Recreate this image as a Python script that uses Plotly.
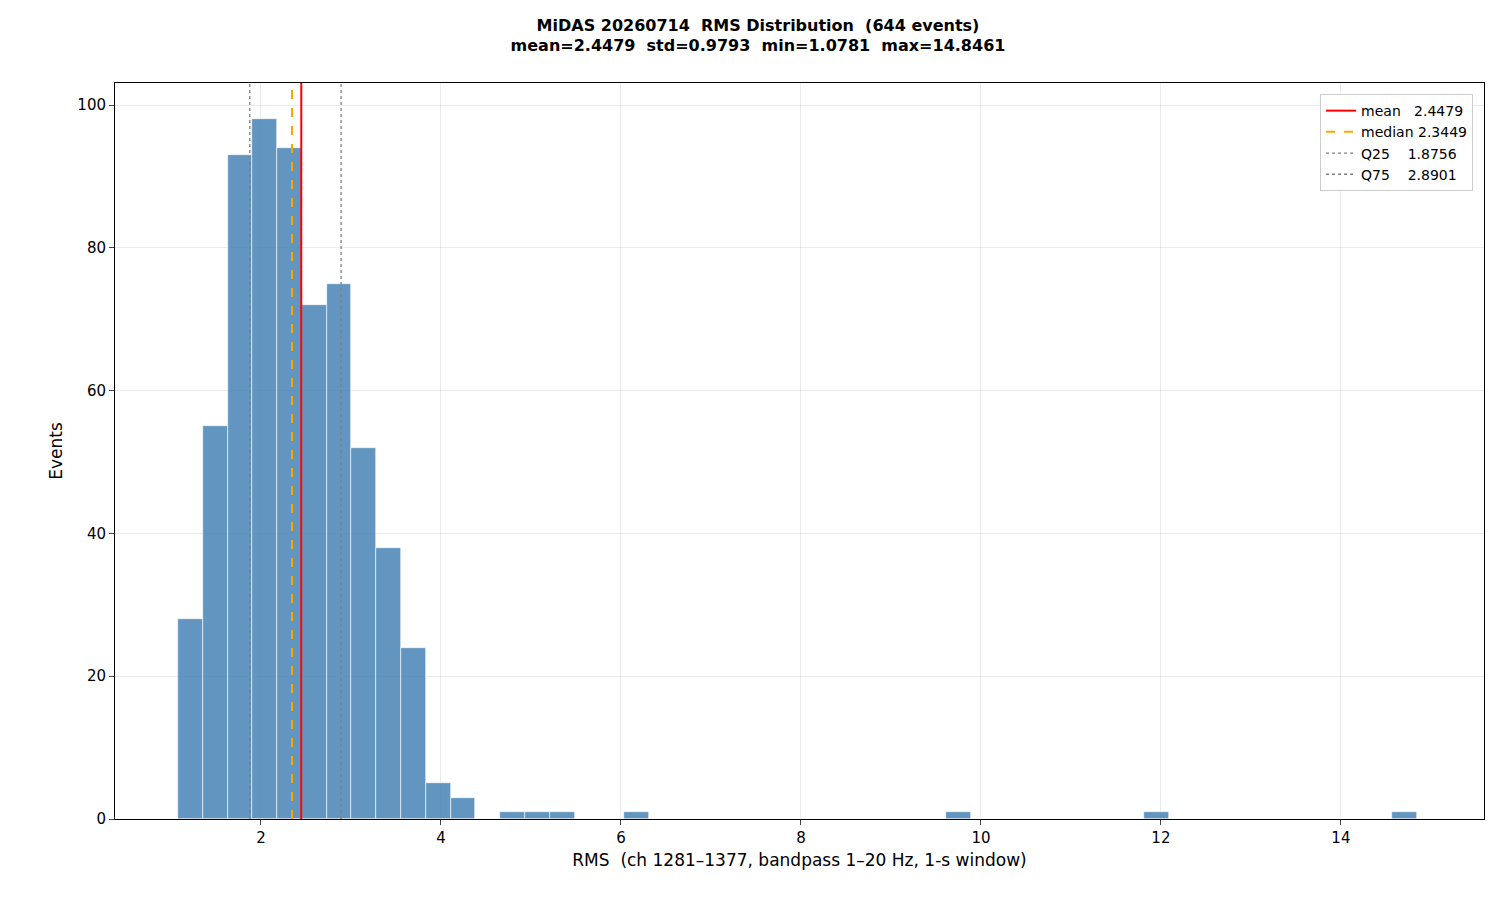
import numpy as np
import plotly.graph_objects as go

# histogram of RMS values, 50 bins between min and max
rms_min = 1.0781
rms_max = 14.8461
n_bins = 50
counts = [28, 55, 93, 98, 94, 72, 75, 52, 38, 24,
          5, 3, 0, 1, 1, 1, 0, 0, 1, 0,
          0, 0, 0, 0, 0, 0, 0, 0, 0, 0,
          0, 1, 0, 0, 0, 0, 0, 0, 0, 1,
          0, 0, 0, 0, 0, 0, 0, 0, 0, 1]
stats_names = ["mean   2.4479", "median 2.3449", "Q25    1.8756", "Q75    2.8901"]
stats_values = [2.4479, 2.3449, 1.8756, 2.8901]
stats_colors = ["red", "orange", "gray", "gray"]
stats_dash = ["solid", "dash", "dot", "dot"]
stats_width = [2, 2, 1.3, 1.3]

width = (rms_max - rms_min) / n_bins
centers = rms_min + width * (np.arange(n_bins) + 0.5)

fig = go.Figure()
fig.add_trace(go.Bar(x=centers, y=counts, width=width, showlegend=False,
                     marker=dict(color="rgba(70,130,180,0.85)",
                                 line=dict(color="white", width=0.6))))

for name, v, c, d, w in zip(stats_names, stats_values, stats_colors, stats_dash, stats_width):
    fig.add_trace(go.Scatter(x=[v, v], y=[0, 103.1], mode="lines", name=name,
                             line=dict(color=c, dash=d, width=w)))

axis = dict(showline=True, linecolor="black", mirror=True, ticks="outside",
            showgrid=True, gridcolor="rgba(0,0,0,0.08)", zeroline=False,
            tickfont=dict(size=15, color="black"))
fig.update_xaxes(axis, range=[0.378, 15.59], tickvals=[2, 4, 6, 8, 10, 12, 14],
                 title=dict(text="RMS  (ch 1281–1377, bandpass 1–20 Hz, 1-s window)",
                            font=dict(size=17, color="black"), standoff=8))
fig.update_yaxes(axis, range=[0, 103.1], tickvals=[0, 20, 40, 60, 80, 100],
                 title=dict(text="Events", font=dict(size=17, color="black"), standoff=10))

fig.update_layout(
    width=1500, height=900, plot_bgcolor="white", paper_bgcolor="white",
    font=dict(family="DejaVu Sans", color="black"),
    margin=dict(l=107, r=24, t=75, b=89),
    bargap=0,
    title=dict(text="<b>MiDAS 20260714  RMS Distribution  (644 events)<br>"
                    "mean=2.4479  std=0.9793  min=1.0781  max=14.8461</b>",
               x=0.5, xanchor="center", y=0.975, font=dict(size=16)),
    legend=dict(x=0.992, y=0.985, xanchor="right", yanchor="top",
                bgcolor="white", bordercolor="#ccc", borderwidth=1,
                font=dict(size=14)),
)

fig.write_html("out.html")
